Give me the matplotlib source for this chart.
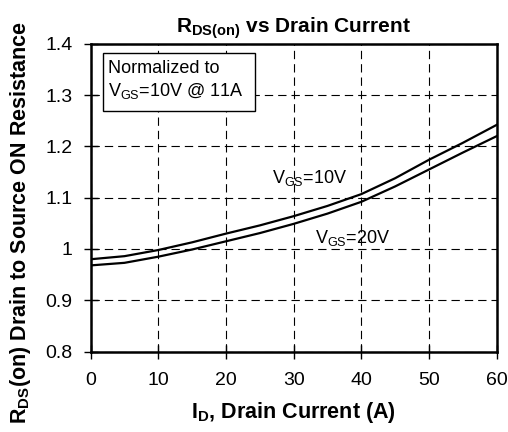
import numpy as np
import matplotlib
matplotlib.use("Agg")
import matplotlib.pyplot as plt
from matplotlib.patches import Rectangle

plt.rcParams['font.family'] = ['Liberation Sans', 'DejaVu Sans']
plt.rcParams['mathtext.fontset'] = 'custom'
plt.rcParams['mathtext.rm'] = 'Liberation Sans'
plt.rcParams['mathtext.it'] = 'Liberation Sans:italic'
plt.rcParams['mathtext.bf'] = 'Liberation Sans:bold'

# drain current (A)
current = [0, 5, 10, 15, 20, 25, 30, 35, 40, 45, 50, 55, 60]
# normalized RDS(on)
rds_10v = [0.980, 0.986, 0.998, 1.013, 1.030, 1.046, 1.064, 1.084, 1.107, 1.138, 1.174, 1.207, 1.242]
rds_20v = [0.968, 0.973, 0.985, 0.999, 1.015, 1.031, 1.049, 1.069, 1.092, 1.122, 1.155, 1.188, 1.220]

xticks = [0, 10, 20, 30, 40, 50, 60]
yticks = [0.8, 0.9, 1.0, 1.1, 1.2, 1.3, 1.4]
ytick_labels = ['0.8', '0.9', '1', '1.1', '1.2', '1.3', '1.4']

fig = plt.figure(figsize=(5.08, 4.32), dpi=100)
ax = fig.add_axes([0.1785, 0.1863, 0.799, 0.712])

ax.plot(current, rds_10v, color='black', lw=1.6)
ax.plot(current, rds_20v, color='black', lw=1.6)

ax.set_xlim(0, 60)
ax.set_ylim(0.8, 1.4)
ax.set_xticks(xticks)
ax.set_yticks(yticks)
ax.set_yticklabels(ytick_labels)
ax.tick_params(labelsize=14, direction='inout', length=10, width=1, pad=10)
ax.tick_params(axis='y', pad=8)
ax.grid(True, color='black', ls=(0, (7.5, 4.5)), lw=0.8)
for s in ax.spines.values():
    s.set_linewidth(1.8)

ax.set_title(r'$\mathbf{R_{DS(on)}}$ vs Drain Current', fontsize=15, fontweight='bold', pad=8)
ax.set_xlabel(r'$\mathbf{I_D}$, Drain Current (A)', fontsize=15.5, fontweight='bold', labelpad=8)
ax.set_ylabel(r'$\mathbf{R_{DS}}$(on) Drain to Source ON Resistance', fontsize=15.5, fontweight='bold')
ax.yaxis.set_label_coords(-0.142, 0.418)

# note box
ax.add_patch(Rectangle((0.030, 0.782), 0.375, 0.189, transform=ax.transAxes,
                       fc='white', ec='black', lw=1, zorder=3))
ax.text(0.043, 0.905, 'Normalized to', transform=ax.transAxes,
        fontsize=13, ha='left', va='baseline', zorder=4)
ax.text(0.043, 0.830, 'V$_{\\mathrm{GS}}$=10V @ 11A', transform=ax.transAxes,
        fontsize=13, ha='left', va='baseline', zorder=4)

ax.text(26.8, 1.129, 'V$_{\\mathrm{GS}}$=10V', fontsize=13, ha='left', va='baseline')
ax.text(33.2, 1.012, 'V$_{\\mathrm{GS}}$=20V', fontsize=13, ha='left', va='baseline')

fig.savefig('out.png', dpi=100)
